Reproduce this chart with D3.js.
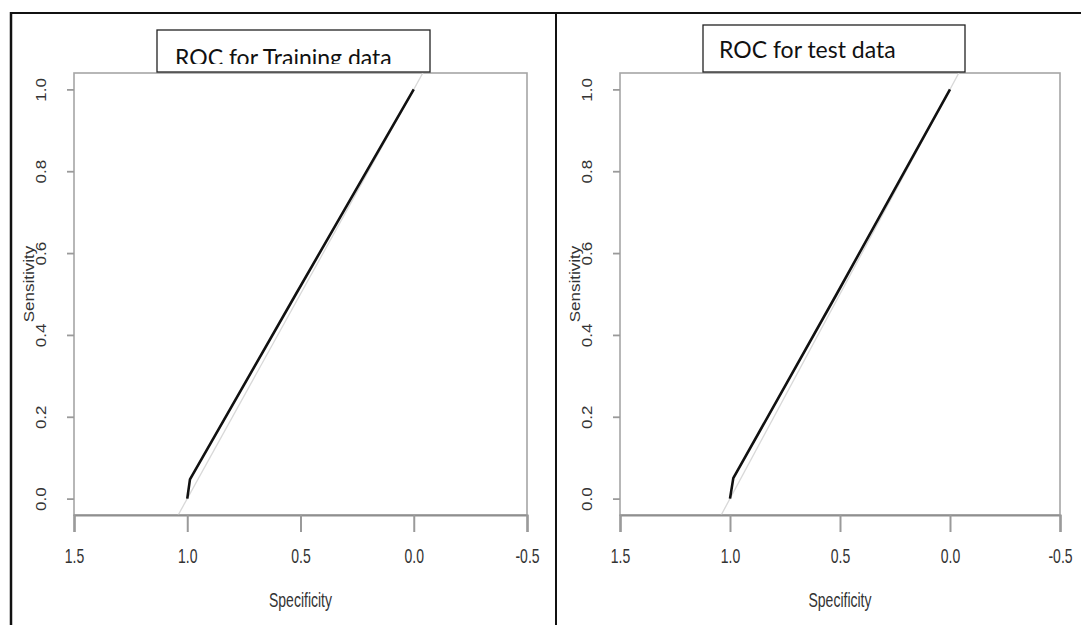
<!DOCTYPE html>
<html>
<head>
<meta charset="utf-8">
<script src="https://cdn.jsdelivr.net/npm/d3@7"></script>
<style>
  body { margin: 0; background: #fff; }
  text { font-family: "Liberation Sans", Arial, sans-serif; fill: #333; }
</style>
</head>
<body>
<div class="chart"></div>
<script>
// values
var xTicks = [1.5, 1.0, 0.5, 0.0, -0.5];
var yTicks = [0.0, 0.2, 0.4, 0.6, 0.8, 1.0];
var titles = ['ROC for Training data', 'ROC for test data'];
var trainSpec = [1.0, 0.988, 0.52, 0.0];
var trainSens = [0.0, 0.047, 0.5, 1.0];
var testSpec = [1.0, 0.985, 0.515, 0.0];
var testSens = [0.0, 0.05, 0.5, 1.0];

var width = 1081;
var height = 625;
var plotTop = 73, plotBottom = 515;

var svg = d3.select('.chart')
  .append('svg')
    .attr('width', width)
    .attr('height', height);

// outer frame (table cells around the two pictures)
svg.append('line').attr('x1', 11).attr('x2', width).attr('y1', 13).attr('y2', 13)
  .attr('stroke', '#111').attr('stroke-width', 2);
svg.append('line').attr('x1', 11).attr('x2', 11).attr('y1', 12).attr('y2', height)
  .attr('stroke', '#111').attr('stroke-width', 2.5);
svg.append('line').attr('x1', 556).attr('x2', 556).attr('y1', 12).attr('y2', height)
  .attr('stroke', '#111').attr('stroke-width', 2);

var panels = [
  { left: 74, right: 527, box: [157, 30, 430, 72], tx: 175, ty: 66, clip: true,
    spec: trainSpec, sens: trainSens },
  { left: 620, right: 1060, box: [703, 25, 965, 72], tx: 719, ty: 58, clip: false,
    spec: testSpec, sens: testSens }
];

panels.forEach(function (p, i) {
  var g = svg.append('g');

  var xScale = d3.scaleLinear()
    .domain([1.5, -0.5])
    .range([p.left, p.right]);
  var yScale = d3.scaleLinear()
    .domain([-0.04, 1.04])
    .range([plotBottom, plotTop]);

  var clipId = 'plot' + i;
  svg.append('clipPath').attr('id', clipId)
    .append('rect')
      .attr('x', p.left).attr('y', plotTop)
      .attr('width', p.right - p.left).attr('height', plotBottom - plotTop);

  // plot frame
  g.append('rect')
    .attr('x', p.left).attr('y', plotTop)
    .attr('width', p.right - p.left).attr('height', plotBottom - plotTop)
    .attr('fill', 'none')
    .attr('stroke', '#a6a6a6')
    .attr('stroke-width', 1.6);

  // chance diagonal
  g.append('line')
    .attr('clip-path', 'url(#' + clipId + ')')
    .attr('x1', xScale(1.1)).attr('y1', yScale(-0.1))
    .attr('x2', xScale(-0.1)).attr('y2', yScale(1.1))
    .attr('stroke', '#d8d8d8')
    .attr('stroke-width', 1.3);

  // roc curve
  var line = d3.line()
    .x(d => xScale(d[0]))
    .y(d => yScale(d[1]));
  g.append('path')
    .datum(d3.zip(p.spec, p.sens))
    .attr('d', line)
    .attr('fill', 'none')
    .attr('stroke', '#111')
    .attr('stroke-width', 2.6)
    .attr('stroke-linejoin', 'round');

  // x axis
  var xAxis = g.append('g')
    .attr('transform', 'translate(0,' + plotBottom + ')')
    .call(d3.axisBottom(xScale).tickValues(xTicks).tickSize(17).tickFormat(d3.format('.1f')));
  xAxis.select('.domain').attr('stroke', '#8f8f8f').attr('stroke-width', 2.2);
  xAxis.selectAll('.tick line').attr('stroke', '#9a9a9a').attr('stroke-width', 2);
  xAxis.selectAll('.tick text')
    .attr('y', 0).attr('dy', 0)
    .attr('font-size', 20)
    .attr('fill', '#333')
    .attr('font-family', '"Liberation Sans", Arial, sans-serif')
    .attr('transform', 'translate(0,48) scale(0.7,1)')
    .text(d => d3.format('.1f')(d).replace('−', '-'));

  // y axis
  var yAxis = g.append('g')
    .attr('transform', 'translate(' + p.left + ',0)')
    .call(d3.axisLeft(yScale).tickValues(yTicks).tickSize(7).tickFormat(d3.format('.1f')));
  yAxis.select('.domain').remove();
  yAxis.selectAll('.tick line').attr('stroke', '#9a9a9a').attr('stroke-width', 1.8);
  yAxis.selectAll('.tick text')
    .attr('x', 0).attr('y', 0).attr('dy', 0)
    .attr('text-anchor', 'middle')
    .attr('font-size', 17)
    .attr('fill', '#3a3a3a')
    .attr('font-family', '"Liberation Sans", Arial, sans-serif')
    .attr('transform', 'translate(-28,0) rotate(-90) scale(1.0,0.85)');

  // axis titles
  g.append('text')
    .attr('text-anchor', 'middle')
    .attr('font-size', 20)
    .attr('transform', 'translate(' + (p.left + p.right) / 2 + ',607) scale(0.7,1)')
    .text('Specificity');
  g.append('text')
    .attr('text-anchor', 'middle')
    .attr('font-size', 17)
    .attr('fill', '#3a3a3a')
    .attr('transform', 'translate(' + (p.left - 40) + ',284) rotate(-90) scale(1.0,0.85)')
    .text('Sensitivity');

  // title box
  var b = p.box;
  g.append('rect')
    .attr('x', b[0]).attr('y', b[1])
    .attr('width', b[2] - b[0]).attr('height', b[3] - b[1])
    .attr('fill', '#fff')
    .attr('stroke', '#222')
    .attr('stroke-width', 1.3);
  var titleClip = 'title' + i;
  svg.append('clipPath').attr('id', titleClip)
    .append('rect')
      .attr('x', b[0]).attr('y', b[1])
      .attr('width', b[2] - b[0]).attr('height', (p.clip ? 34 : b[3] - b[1]));
  g.append('g')
    .attr('clip-path', 'url(#' + titleClip + ')')
    .append('text')
      .attr('x', p.tx)
      .attr('y', p.ty)
      .attr('font-size', 23)
      .attr('style', 'font-family: Lato, "Open Sans", sans-serif; fill: #111')
      .text(titles[i]);
});
</script>
</body>
</html>
